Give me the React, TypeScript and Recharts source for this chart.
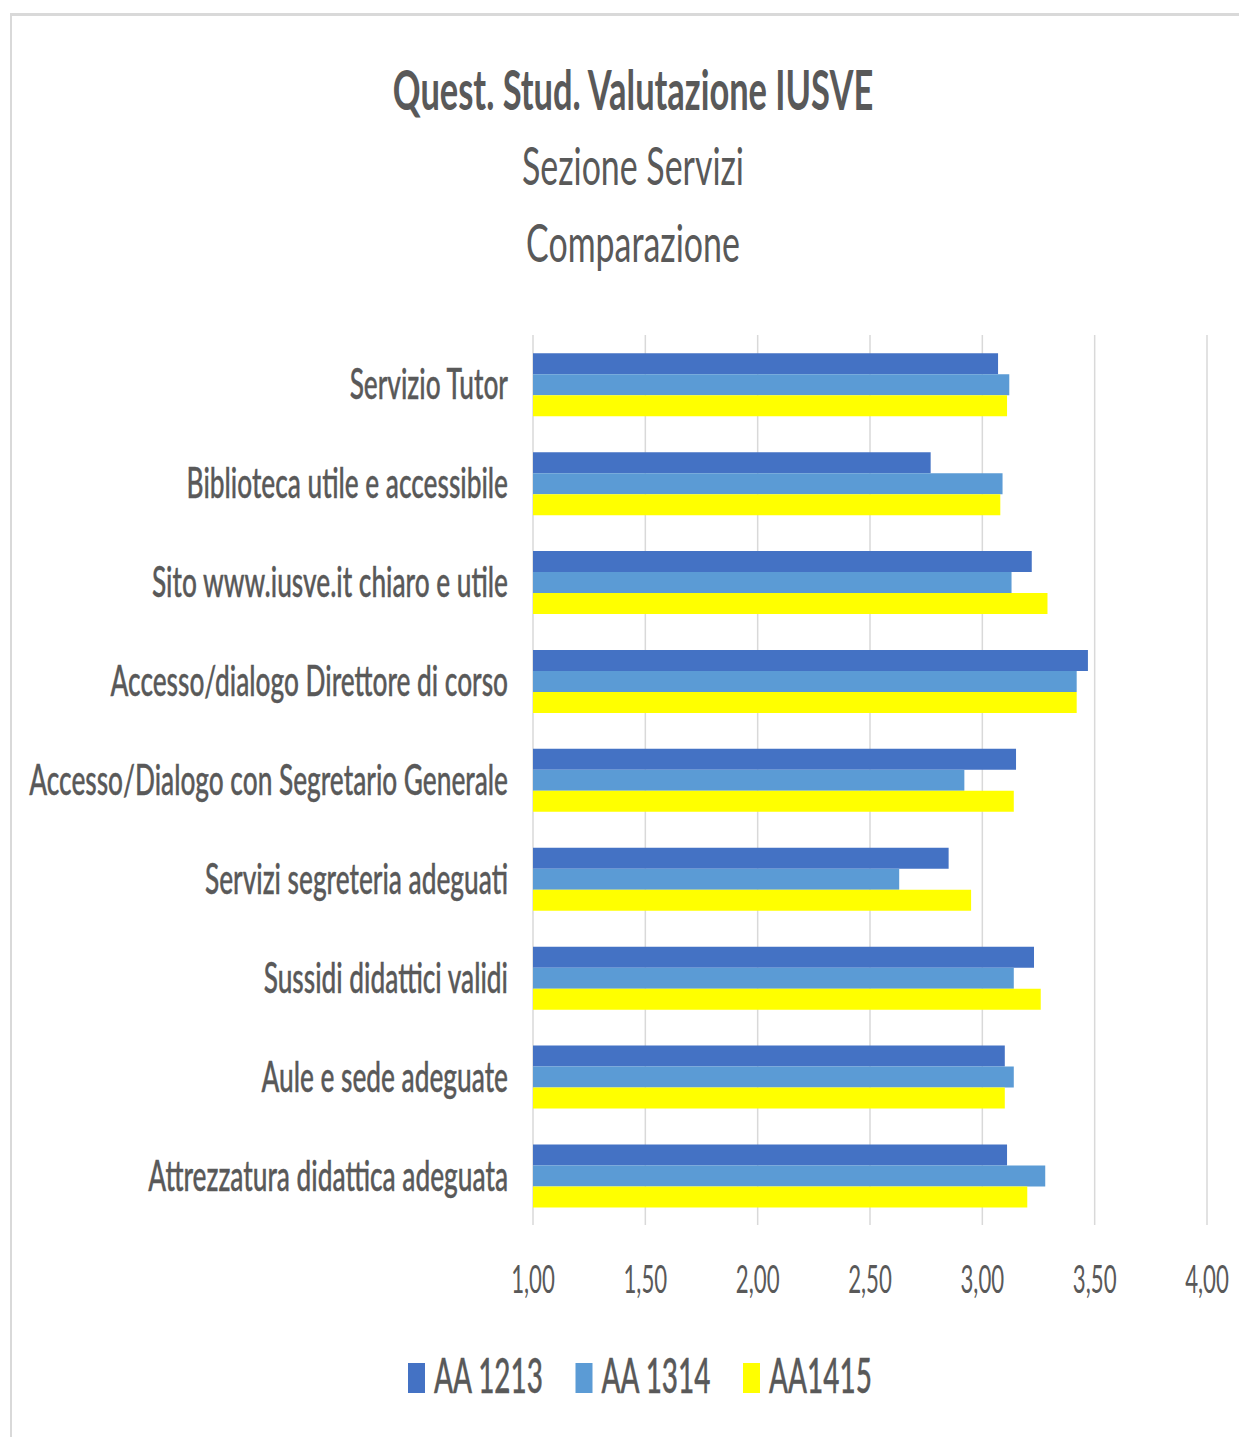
import React from 'react';
import { BarChart, Bar, XAxis, YAxis, CartesianGrid, Legend } from 'recharts';

const categories = [
  'Servizio Tutor',
  'Biblioteca utile e accessibile',
  'Sito www.iusve.it chiaro e utile',
  'Accesso/dialogo Direttore di corso',
  'Accesso/Dialogo con Segretario Generale',
  'Servizi segreteria adeguati',
  'Sussidi didattici validi',
  'Aule e sede adeguate',
  'Attrezzatura didattica adeguata',
];
const aa1213 = [3.07, 2.77, 3.22, 3.47, 3.15, 2.85, 3.23, 3.10, 3.11];
const aa1314 = [3.12, 3.09, 3.13, 3.42, 2.92, 2.63, 3.14, 3.14, 3.28];
const aa1415 = [3.11, 3.08, 3.29, 3.42, 3.14, 2.95, 3.26, 3.10, 3.20];
const seriesNames = ['AA 1213', 'AA 1314', 'AA1415'];
const seriesColors = ['#4472C4', '#5B9BD5', '#FFFF00'];
const xTicks = [1, 1.5, 2, 2.5, 3, 3.5, 4];
const titleLines = ['Quest. Stud. Valutazione IUSVE', 'Sezione Servizi', 'Comparazione'];

const data = categories.map((name, i) => ({ name, s0: aa1213[i], s1: aa1314[i], s2: aa1415[i] }));

const FONT = 'Lato, "Open Sans", sans-serif';
const SX_Y = 0.625;
const SX_TICK = 0.57;
const SX_LEG = 0.57;
const SX_TITLE = [0.615, 0.64, 0.64];
const TEXT = '#595959';
const W = 1231;
const H = 1429;

function YTick(props: any) {
  const { x, y, payload } = props;
  return (
    <g transform={`translate(${x},${y})`}>
      <text
        transform={`scale(${SX_Y},1)`}
        x={0}
        y={15}
        textAnchor="end"
        fontFamily={FONT}
        fontSize={42}
        fontWeight={500}
        fill={TEXT}
        stroke={TEXT}
        strokeWidth={0.4}
      >
        {payload.value}
      </text>
    </g>
  );
}

function XTick(props: any) {
  const { x, y, payload } = props;
  const label = Number(payload.value).toFixed(2).replace('.', ',');
  return (
    <g transform={`translate(${x},${y})`}>
      <text transform={`scale(${SX_TICK},1)`} x={0} y={68} textAnchor="middle" fontFamily={FONT} fontSize={39} fill={TEXT}>
        {label}
      </text>
    </g>
  );
}

function LegendContent(props: any) {
  const payload = props.payload || [];
  return (
    <svg width={W} height={60} style={{ display: 'block', overflow: 'visible' }}>
      {payload.map((p: any, i: number) => {
        const x0 = 400 + i * 167.5;
        return (
          <g key={i}>
            <rect x={x0} y={15} width={17} height={30} fill={p.color} />
            <text
              transform={`scale(${SX_LEG},1)`}
              x={(x0 + 26) / SX_LEG}
              y={45}
              fontFamily={FONT}
              fontSize={49}
              fontWeight={500}
              fill={TEXT}
              stroke={TEXT}
              strokeWidth={0.4}
            >
              {p.value}
            </text>
          </g>
        );
      })}
    </svg>
  );
}

export default function App() {
  const cx = 625;
  const titleY = [102, 177, 254];
  const titleSize = [56, 53, 53];
  return (
    <div style={{ position: 'relative', width: W, height: H, background: '#fff', overflow: 'hidden' }}>
      <div
        style={{
          position: 'absolute',
          left: 2,
          top: 5,
          right: -10,
          bottom: -10,
          borderTop: '3px solid #d9d9d9',
          borderLeft: '2px solid #d9d9d9',
        }}
      />
      <BarChart
        width={W}
        height={H}
        data={data}
        layout="vertical"
        margin={{ top: 327, right: 32, bottom: 29, left: 0 }}
        barCategoryGap="18.5%"
        barGap={0}
        style={{ position: 'absolute', left: 0, top: 0 }}
      >
        <CartesianGrid horizontal={false} stroke="#d9d9d9" strokeWidth={1.5} />
        <XAxis
          type="number"
          domain={[1, 4]}
          ticks={xTicks}
          interval={0}
          axisLine={false}
          tickLine={false}
          tickSize={0}
          tickMargin={0}
          height={123}
          tick={<XTick />}
        />
        <YAxis
          type="category"
          dataKey="name"
          width={525}
          axisLine={false}
          tickLine={false}
          tickSize={0}
          tickMargin={25}
          interval={0}
          tick={<YTick />}
        />
        <Legend verticalAlign="bottom" height={60} content={<LegendContent />} />
        <Bar dataKey="s0" name={seriesNames[0]} fill={seriesColors[0]} isAnimationActive={false} />
        <Bar dataKey="s1" name={seriesNames[1]} fill={seriesColors[1]} isAnimationActive={false} />
        <Bar dataKey="s2" name={seriesNames[2]} fill={seriesColors[2]} isAnimationActive={false} />
      </BarChart>
      <svg width={W} height={300} style={{ position: 'absolute', left: 0, top: 0, pointerEvents: 'none' }}>
        {titleLines.map((t, i) => (
          <text
            key={i}
            transform={`scale(${SX_TITLE[i]},1)`}
            x={cx / SX_TITLE[i]}
            y={titleY[i]}
            textAnchor="middle"
            fontFamily={FONT}
            fontSize={titleSize[i]}
            fontWeight={i === 0 ? 700 : 400}
            fill={TEXT}
          >
            {t}
          </text>
        ))}
      </svg>
    </div>
  );
}
